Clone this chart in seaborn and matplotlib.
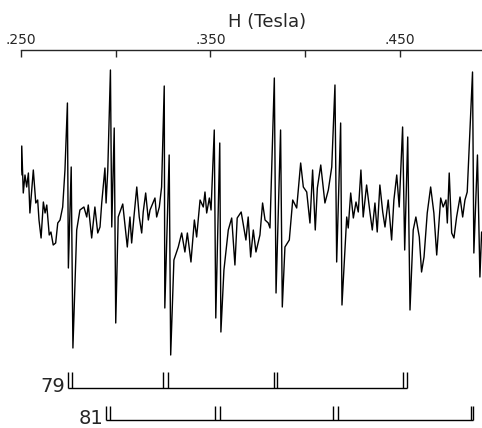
import numpy as np
import pandas as pd
import matplotlib
matplotlib.use("Agg")
import matplotlib.pyplot as plt
import seaborn as sns

# magnetic field (mT) and derivative EPR signal (arb. units)
field_mT = [250.0, 250.4, 251.2, 252.1, 253.0, 253.9, 254.7, 256.5, 257.8, 258.8,
            259.5, 260.6, 261.8, 262.7, 263.6, 264.9, 265.8, 267.0, 268.3, 269.4,
            270.6, 272.0, 273.2, 274.5, 275.0, 276.5, 277.4, 279.4, 281.1, 283.2,
            284.7, 285.5, 287.3, 289.0, 290.5, 291.7, 292.6, 294.3, 294.9, 295.8,
            297.2, 297.9, 299.2, 300.0, 301.3, 303.7, 306.1, 307.5, 308.4, 309.6,
            311.1, 312.4, 313.7, 314.5, 315.8, 317.2, 318.1, 320.7, 321.6, 323.0,
            324.2, 325.6, 325.9, 328.2, 329.0, 330.7, 333.0, 334.8, 336.5, 337.8,
            339.7, 341.5, 342.7, 344.5, 346.2, 347.1, 348.0, 349.4, 350.3, 352.0,
            352.8, 354.9, 355.5, 357.1, 359.4, 361.2, 362.9, 364.1, 366.2, 368.7,
            369.9, 371.2, 372.6, 374.0, 376.1, 377.5, 378.8, 380.5, 381.4, 383.7,
            384.6, 387.0, 387.9, 389.3, 391.6, 393.4, 395.5, 397.6, 399.0, 400.8,
            402.5, 403.9, 405.3, 406.4, 408.2, 410.4, 412.2, 414.0, 415.7, 416.6,
            418.7, 419.4, 421.9, 422.7, 424.0, 425.4, 426.8, 428.0, 429.4, 430.6,
            432.4, 434.2, 435.4, 436.8, 438.0, 439.4, 440.9, 442.1, 443.8, 445.6,
            446.8, 448.3, 449.6, 451.4, 452.5, 454.1, 455.3, 457.0, 458.4, 460.2,
            461.4, 462.7, 464.4, 466.2, 467.9, 469.4, 471.5, 472.8, 474.3, 475.0,
            476.0, 477.3, 478.5, 479.9, 481.7, 483.1, 484.3, 485.5, 488.3, 489.0,
            490.9, 492.2, 493.1]
signal = [55, 84, 37, 55, 43, 57, 17, 60, 27, 30,
          10, -8, 28, 17, 25, -5, -2, -15, -13, 7,
          10, 23, 60, 127, -38, 63, -118, 0, 20, 23,
          13, 25, -8, 23, -3, 3, 27, 62, 27, 60,
          160, 3, 102, -93, 13, 26, -17, 13, -13, 13,
          43, 13, -3, 18, 37, 10, 20, 32, 13, 23,
          43, 144, -78, 75, -125, -30, -17, -3, -22, -3,
          -32, 10, -7, 30, 23, 38, 17, 32, 20, 100,
          -88, 87, -102, -40, 0, 12, -35, 12, 18, -10,
          13, -27, 0, -22, -5, 27, 10, 7, 2, 152,
          -63, 100, -77, -17, -10, 30, 22, 67, 43, 38,
          7, 60, 0, 42, 65, 27, 40, 63, 145, -32,
          107, -75, 13, 2, 37, 12, 28, 18, 60, 13,
          45, 17, 0, 27, -2, 45, 18, 3, 30, -10,
          30, 55, 23, 103, -20, 93, -80, 0, 13, -7,
          -42, -27, 17, 43, 17, -25, 32, 23, 30, 7,
          57, -3, -8, 13, 33, 13, 30, 38, 158, -23,
          75, -47, -2]

# stick diagrams (Tesla) for the two isotopes
iso_labels = ["79", "81"]
lines_79 = [0.2748, 0.2769, 0.3249, 0.3276, 0.3835, 0.3851, 0.4516, 0.4537]
lines_81 = [0.2949, 0.2970, 0.3524, 0.3550, 0.4146, 0.4173, 0.4875, 0.4885]

major_ticks = [0.25, 0.35, 0.45]
minor_ticks = [0.30, 0.40]
tick_labels = [".250", ".350", ".450"]

df = pd.DataFrame({"H": np.array(field_mT) / 1000.0, "signal": signal})

sns.set_style("white")
plt.rcParams["font.family"] = ["DejaVu Sans"]

fig = plt.figure(figsize=(4.82, 4.28), dpi=100)
ax = fig.add_axes([21 / 482, 0, 461 / 482, 378 / 428])

sns.lineplot(data=df, x="H", y="signal", ax=ax, color="black", lw=1.0,
             estimator=None, sort=False)

# stick diagrams
for lines, label, base, top in [(lines_79, iso_labels[0], -158, -142),
                                (lines_81, iso_labels[1], -190, -176)]:
    ax.vlines(lines, base, top, color="black", lw=1.0)
    ax.hlines(base, lines[0], lines[-1], color="black", lw=1.0)
    ax.text(lines[0] - 0.0015, base + 2, label, ha="right", va="center",
            fontsize=14)

ax.set_xlim(0.250, 0.4933)
ax.set_ylim(-198, 180)
for s in ["left", "right", "bottom"]:
    ax.spines[s].set_visible(False)
ax.spines["top"].set_linewidth(1.0)
ax.xaxis.tick_top()
ax.set_xticks(major_ticks)
ax.set_xticklabels(tick_labels, fontsize=10)
ax.set_xticks(minor_ticks, minor=True)
ax.tick_params(axis="x", which="both", direction="in", length=5, width=1,
               pad=2, top=True, bottom=False)
ax.set_yticks([])
ax.set_xlabel("")
ax.set_ylabel("")

fig.text(267 / 482, 1 - 22 / 428, "H (Tesla)", ha="center", va="center",
         fontsize=13)

fig.savefig("out.png", dpi=100)
